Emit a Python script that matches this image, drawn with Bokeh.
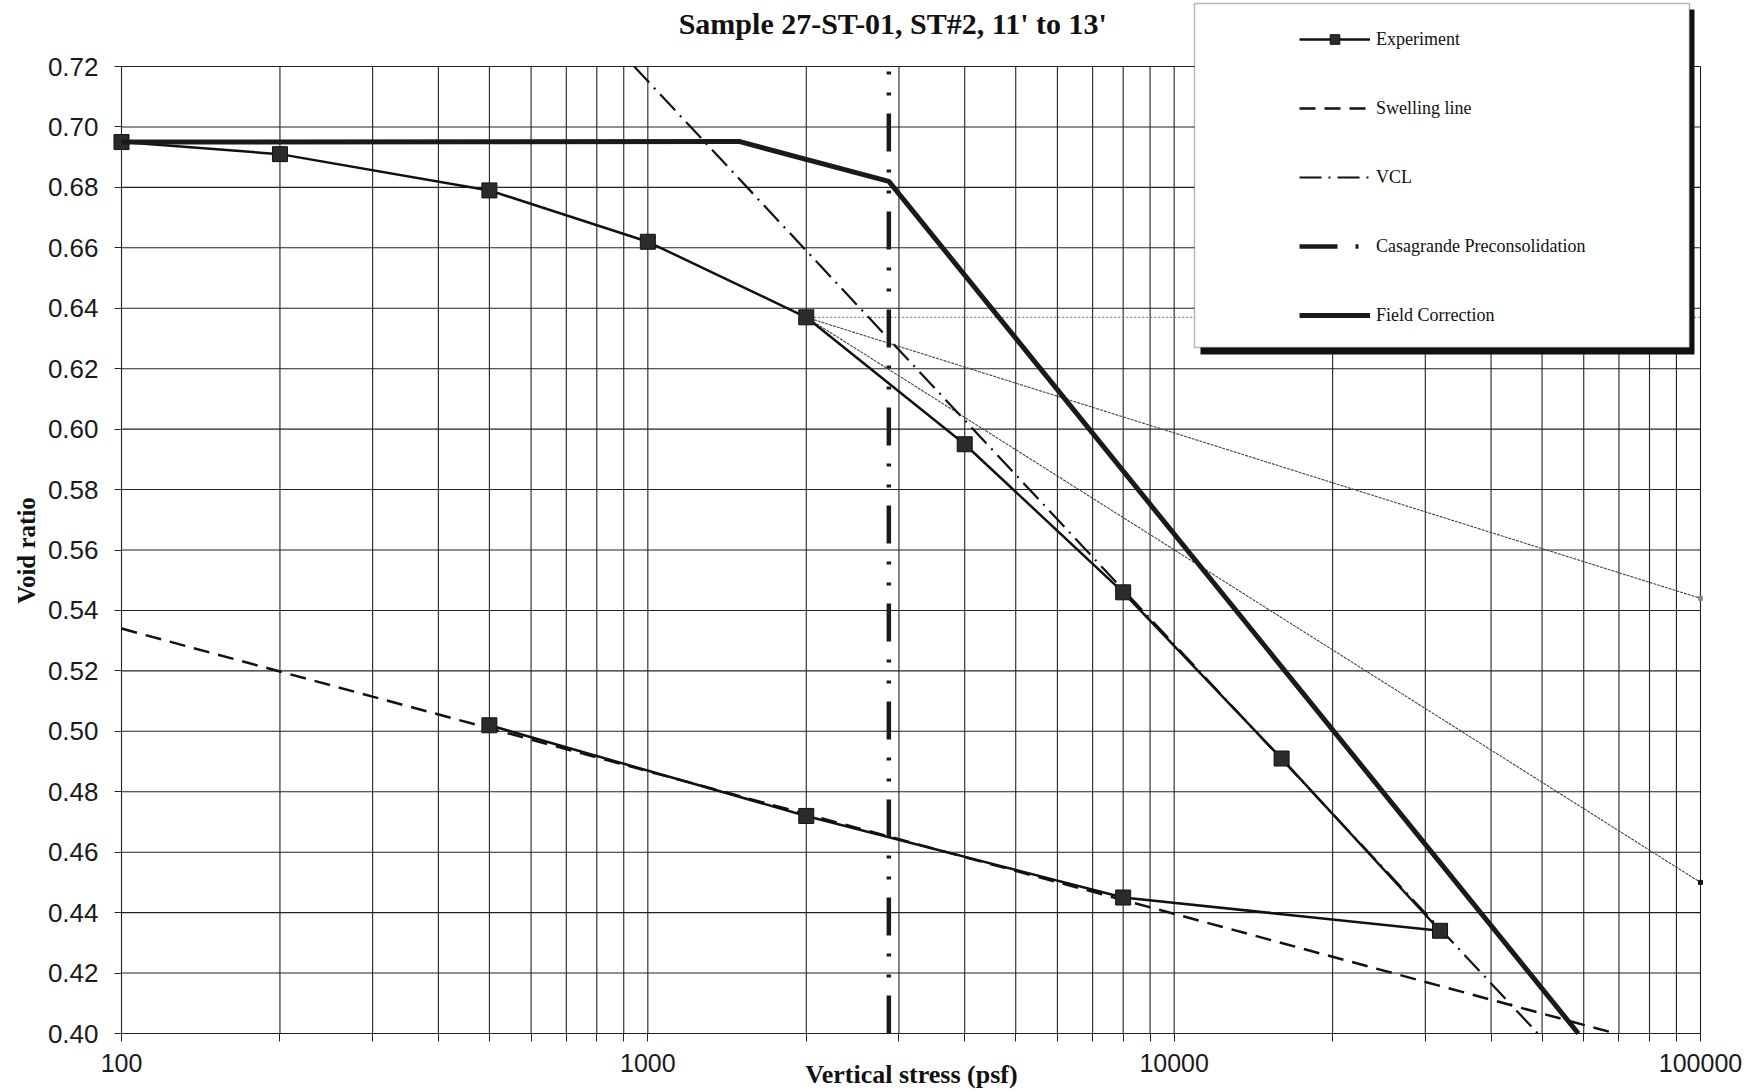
from bokeh.plotting import figure
from bokeh.models import (Range1d, FixedTicker, NumeralTickFormatter, Label,
                          Legend, LegendItem, BoxAnnotation)
from bokeh.embed import file_html
from bokeh.resources import INLINE

# ---------------- data ----------------
# Oedometer test, loading then unloading (stress in psf, void ratio e)
exp_stress = [100, 200, 500, 1000, 2000, 4000, 8000, 16000, 32000, 8000, 2000, 500]
exp_void = [0.695, 0.691, 0.679, 0.662, 0.637, 0.595, 0.546, 0.491, 0.434, 0.445, 0.472, 0.502]

# Swelling (unload-reload) line
swell_stress = [100, 69000]
swell_void = [0.534, 0.400]

# Virgin compression line
vcl_stress = [942, 49100]
vcl_void = [0.720, 0.400]

# Casagrande preconsolidation stress
pc_stress = [2870, 2870]
pc_void = [0.400, 0.720]

# Field-corrected (Schmertmann) curve
field_stress = [100, 1490, 2870, 58600]
field_void = [0.695, 0.6952, 0.682, 0.400]

# Casagrande construction from the point of maximum curvature
cons_stress = [2000, 100000]
horiz_void = [0.637, 0.637]
bisect_void = [0.637, 0.544]
tangent_void = [0.637, 0.450]

# axes
x_major = [100, 1000, 10000, 100000]
x_minor = [200, 300, 400, 500, 600, 700, 800, 900,
           2000, 3000, 4000, 5000, 6000, 7000, 8000, 9000,
           20000, 30000, 40000, 50000, 60000, 70000, 80000, 90000]
y_ticks = [0.40, 0.42, 0.44, 0.46, 0.48, 0.50, 0.52, 0.54, 0.56,
           0.58, 0.60, 0.62, 0.64, 0.66, 0.68, 0.70, 0.72]

# ---------------- layout ----------------
W, H = 1760, 1091
X_LO, X_HI = x_major[0], x_major[-1]
Y_LO, Y_HI = y_ticks[0], y_ticks[-1]
# chart box on the canvas (px): the frame fills the canvas, axes sit at fixed locations
BOX_L, BOX_R, BOX_T, BOX_B = 121, 1700, 66, 1033
PX_PER_DEC = (BOX_R - BOX_L) / 3.0
V_PER_PX = (Y_HI - Y_LO) / (BOX_B - BOX_T)
x_start = X_LO * 10 ** (-BOX_L / PX_PER_DEC)
x_end = X_HI * 10 ** ((W - BOX_R) / PX_PER_DEC)
y_start = Y_LO - (H - BOX_B) * V_PER_PX
y_end = Y_HI + BOX_T * V_PER_PX


def sx(px):
    """canvas x (px) -> screen x"""
    return px


def sy(py):
    """canvas y (px, from top) -> screen y (from bottom)"""
    return H - py


p = figure(width=W, height=H, x_axis_type="log",
           x_range=Range1d(x_start, x_end), y_range=Range1d(y_start, y_end),
           output_backend="svg", toolbar_location=None,
           min_border_left=0, min_border_right=0,
           min_border_top=0, min_border_bottom=0)
p.outline_line_color = None
p.background_fill_color = "white"
p.border_fill_color = "white"
p.xgrid.visible = False
p.ygrid.visible = False

GRID = "#222222"

# grid drawn only over the charted region
vx = x_major + x_minor
p.segment(x0=vx, x1=vx, y0=[Y_LO] * len(vx), y1=[Y_HI] * len(vx),
          line_color=GRID, line_width=1.1)
p.segment(x0=[X_LO] * len(y_ticks), x1=[X_HI] * len(y_ticks),
          y0=y_ticks, y1=y_ticks, line_color=GRID, line_width=1.1)

# axes
xa = p.xaxis[0]
xa.fixed_location = Y_LO
xa.bounds = (X_LO, X_HI)
xa.ticker = FixedTicker(ticks=x_major, minor_ticks=x_minor)
xa.formatter = NumeralTickFormatter(format="0")
xa.axis_line_color = None
xa.major_tick_in = 0
xa.minor_tick_in = 0
xa.major_tick_out = 8
xa.minor_tick_out = 8
xa.major_tick_line_color = GRID
xa.minor_tick_line_color = GRID
xa.major_label_standoff = 12
xa.major_label_text_font = "Liberation Sans"
xa.major_label_text_font_size = "25px"
xa.major_label_text_color = "#1a1a1a"

ya = p.yaxis[0]
ya.fixed_location = X_LO
ya.bounds = (Y_LO, Y_HI)
ya.ticker = FixedTicker(ticks=y_ticks)
ya.formatter = NumeralTickFormatter(format="0.00")
ya.axis_line_color = None
ya.major_tick_in = 0
ya.major_tick_out = 7
ya.minor_tick_line_color = None
ya.major_tick_line_color = GRID
ya.major_label_standoff = 16
ya.major_label_text_font = "Liberation Sans"
ya.major_label_text_font_size = "26px"
ya.major_label_text_color = "#1a1a1a"

# construction lines
p.line(cons_stress, horiz_void, line_color="#666666", line_width=1, line_dash="2 2")
p.line(cons_stress, bisect_void, line_color="#444444", line_width=1.1, line_dash="3 1")
p.line(cons_stress, tangent_void, line_color="#444444", line_width=1.1, line_dash="3 1")
p.scatter([cons_stress[1]], [bisect_void[1]], marker="square", size=4,
          fill_color="#888888", line_color="#888888")
p.scatter([cons_stress[1]], [tangent_void[1]], marker="square", size=4,
          fill_color="#111111", line_color="#111111")

r_swell = p.line(swell_stress, swell_void, line_color="#111111", line_width=2.5,
                 line_dash="16 9")
r_vcl = p.line(vcl_stress, vcl_void, line_color="#111111", line_width=2.2,
               line_dash="22 7 2 7")
r_exp_line = p.line(exp_stress, exp_void, line_color="#111111", line_width=2.5)
r_exp_pts = p.scatter(exp_stress, exp_void, marker="square", size=15,
                      fill_color="#2b2b2b", line_color="#111111")
r_field = p.line(field_stress, field_void, line_color="#1a1a1a", line_width=5)
r_pc = p.line(pc_stress, pc_void, line_color="#1a1a1a", line_width=4.5,
              line_dash="38 18 3 18 3 18")

# legend box with drop shadow
p.add_layout(BoxAnnotation(left=sx(1200), right=sx(1694), top=sy(9), bottom=sy(354),
                           left_units="screen", right_units="screen",
                           top_units="screen", bottom_units="screen",
                           fill_color="#111111", fill_alpha=1, line_color=None))
p.add_layout(BoxAnnotation(left=sx(1194), right=sx(1689), top=sy(3), bottom=sy(347),
                           left_units="screen", right_units="screen",
                           top_units="screen", bottom_units="screen",
                           fill_color="white", fill_alpha=1,
                           line_color="#111111", line_width=1.5))

legend = Legend(items=[
    LegendItem(label="Experiment", renderers=[r_exp_line, r_exp_pts]),
    LegendItem(label="Swelling line", renderers=[r_swell]),
    LegendItem(label="VCL", renderers=[r_vcl]),
    LegendItem(label="Casagrande Preconsolidation", renderers=[r_pc]),
    LegendItem(label="Field Correction", renderers=[r_field]),
], location=(sx(1299), sy(327)), orientation="vertical",
    glyph_width=71, glyph_height=24, spacing=45, label_standoff=6,
    padding=0, margin=0, border_line_color=None, background_fill_alpha=0,
    label_text_font="Liberation Serif", label_text_font_size="18px",
    label_text_color="#111111")
p.add_layout(legend)

# titles
p.add_layout(Label(x=sx(896), y=sy(23), x_units="screen", y_units="screen",
                   text="Sample  27-ST-01, ST#2, 11' to 13'",
                   text_align="center", text_baseline="alphabetic",
                   text_font="Liberation Serif", text_font_style="bold",
                   text_font_size="30px", text_color="#111111"))
p.add_layout(Label(x=sx(26), y=sy(550), x_units="screen", y_units="screen",
                   text="Void ratio", angle=1.5707963,
                   text_align="center", text_baseline="middle",
                   text_font="Liberation Serif", text_font_style="bold",
                   text_font_size="25px", text_color="#111111"))
p.add_layout(Label(x=sx(911), y=sy(1074), x_units="screen", y_units="screen",
                   text="Vertical stress (psf)",
                   text_align="center", text_baseline="middle",
                   text_font="Liberation Serif", text_font_style="bold",
                   text_font_size="26px", text_color="#111111"))

open("out.html", "w").write(file_html(p, INLINE))
